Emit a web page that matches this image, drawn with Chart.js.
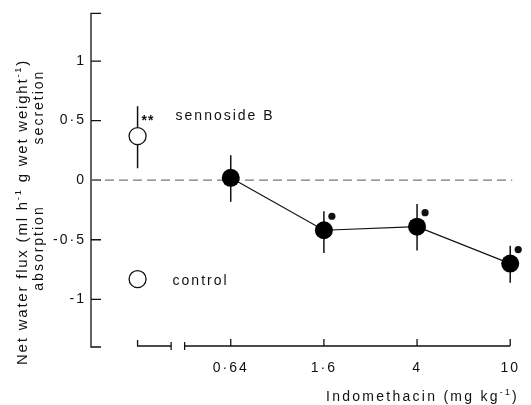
<!DOCTYPE html>
<html><head><meta charset="utf-8">
<script src="https://cdn.jsdelivr.net/npm/chart.js@4/dist/chart.umd.min.js"></script>
<style>html,body{margin:0;padding:0;background:#fff}canvas{display:block}</style>
</head><body>
<canvas id="c" width="531" height="405"></canvas>
<script>
// ---- data ----
const doseLabels = ['0·64', '1·6', '4', '10'];
const dosePositions = [2, 3, 4, 5];
const doseMeans = [0.02, -0.42, -0.39, -0.70];
const doseUpper = [0.21, -0.26, -0.20, -0.55];
const doseLower = [-0.18, -0.61, -0.59, -0.86];
const doseSignificant = [false, true, true, true];

const referencePosition = [1];
const sennosideMean = [0.37];
const sennosideUpper = [0.62];
const sennosideLower = [0.10];
const controlMean = [-0.83];

const yTickValues = [-1, -0.5, 0, 0.5, 1];
const yTickLabels = ['-1', '-0·5', '0', '0·5', '1'];

const FONT = "'Liberation Sans', Arial, Helvetica, sans-serif";

function partsWidth(ctx, parts, size) {
  let w = 0;
  for (const p of parts) {
    ctx.font = (p.sup ? size * 0.62 : size) + 'px ' + FONT;
    w += ctx.measureText(p.t).width;
  }
  return w;
}
function drawRich(ctx, parts, size, spacing) {
  ctx.letterSpacing = spacing + 'px';
  let x = 0;
  for (const p of parts) {
    ctx.font = (p.sup ? size * 0.62 : size) + 'px ' + FONT;
    ctx.fillText(p.t, x, p.sup ? -size * 0.42 : 0);
    x += ctx.measureText(p.t).width;
  }
  return x;
}
function fittedSpacing(ctx, parts, size, target) {
  ctx.letterSpacing = '0px';
  const w0 = partsWidth(ctx, parts, size);
  const n = parts.reduce((a, p) => a + p.t.length, 0);
  return (target - w0) / n;
}

const decor = {
  id: 'decor',
  beforeDraw(chart) {
    chart.ctx.letterSpacing = '2px';
  },
  beforeDatasetsDraw(chart) {
    const ctx = chart.ctx, xs = chart.scales.x, ys = chart.scales.y;
    const a = chart.chartArea;
    ctx.save();
    ctx.strokeStyle = '#111';
    ctx.lineWidth = 1.3;
    ctx.beginPath();
    ctx.moveTo(a.left + 10, a.top); ctx.lineTo(a.left, a.top);
    ctx.lineTo(a.left, a.bottom); ctx.lineTo(a.left + 10, a.bottom);
    for (const v of yTickValues) {
      const py = ys.getPixelForValue(v);
      ctx.moveTo(a.left, py); ctx.lineTo(a.left + 10, py);
    }
    ctx.stroke();
    const yb = a.bottom - 1;
    const s1a = xs.getPixelForValue(1), s1b = xs.getPixelForValue(1.36);
    const s2a = xs.getPixelForValue(1.505), s2b = xs.getPixelForValue(5);
    ctx.beginPath();
    ctx.moveTo(s1a, yb - 6); ctx.lineTo(s1a, yb); ctx.lineTo(s1b, yb);
    ctx.moveTo(s1b, yb - 4); ctx.lineTo(s1b, yb + 4);
    ctx.moveTo(s2a, yb - 4); ctx.lineTo(s2a, yb + 4);
    ctx.moveTo(s2a, yb); ctx.lineTo(s2b, yb);
    for (const v of dosePositions) {
      const px = xs.getPixelForValue(v);
      ctx.moveTo(px, yb); ctx.lineTo(px, yb - 7);
    }
    ctx.stroke();
    const y0 = ys.getPixelForValue(0);
    ctx.strokeStyle = '#777';
    ctx.lineWidth = 1.2;
    ctx.setLineDash([9, 5]);
    ctx.beginPath();
    ctx.moveTo(a.left, y0); ctx.lineTo(a.right + 2, y0);
    ctx.stroke();
    ctx.setLineDash([]);
    ctx.strokeStyle = '#111';
    ctx.lineWidth = 1.5;
    ctx.beginPath();
    dosePositions.forEach((v, i) => {
      const px = xs.getPixelForValue(v);
      ctx.moveTo(px, ys.getPixelForValue(doseUpper[i]));
      ctx.lineTo(px, ys.getPixelForValue(doseLower[i]));
    });
    referencePosition.forEach((v, i) => {
      const px = xs.getPixelForValue(v);
      ctx.moveTo(px, ys.getPixelForValue(sennosideUpper[i]));
      ctx.lineTo(px, ys.getPixelForValue(sennosideLower[i]));
    });
    ctx.stroke();
    ctx.restore();
  },
  afterDatasetsDraw(chart) {
    const ctx = chart.ctx, xs = chart.scales.x, ys = chart.scales.y;
    ctx.save();
    ctx.fillStyle = '#111';
    dosePositions.forEach((v, i) => {
      if (!doseSignificant[i]) return;
      const px = xs.getPixelForValue(v), py = ys.getPixelForValue(doseMeans[i]);
      ctx.beginPath();
      ctx.arc(px + 8, py - 14, 3.6, 0, Math.PI * 2);
      ctx.fill();
    });
    const sx = xs.getPixelForValue(referencePosition[0]);
    const sy = ys.getPixelForValue(sennosideMean[0]);
    ctx.letterSpacing = '1px';
    ctx.font = 'bold 14px ' + FONT;
    ctx.textAlign = 'left';
    ctx.textBaseline = 'alphabetic';
    ctx.fillText('**', sx + 4, sy - 11);
    ctx.letterSpacing = '2px';
    ctx.font = '14px ' + FONT;
    ctx.fillText('sennoside B', sx + 38, sy - 16);
    ctx.fillText('control', sx + 35, ys.getPixelForValue(controlMean[0]) + 6);

    const yParts = [{t: 'Net water flux (ml h'}, {t: '-1', sup: true}, {t: ' g wet weight'}, {t: '-1', sup: true}, {t: ')'}];
    const sp = fittedSpacing(ctx, yParts, 15, 306);
    ctx.save();
    ctx.translate(27, 365);
    ctx.rotate(-Math.PI / 2);
    drawRich(ctx, yParts, 15, sp);
    ctx.restore();

    for (const [txt, cy] of [['secretion', 107], ['absorption', 248]]) {
      ctx.save();
      ctx.letterSpacing = '2px';
      ctx.font = '14px ' + FONT;
      ctx.textAlign = 'center';
      ctx.translate(43, cy);
      ctx.rotate(-Math.PI / 2);
      ctx.fillText(txt, 0, 0);
      ctx.restore();
    }

    const xParts = [{t: 'Indomethacin (mg kg'}, {t: '-1', sup: true}, {t: ')'}];
    const xsp = fittedSpacing(ctx, xParts, 14, 193);
    ctx.save();
    ctx.translate(326, 401);
    drawRich(ctx, xParts, 14, xsp);
    ctx.restore();
    ctx.restore();
  }
};

new Chart(document.getElementById('c'), {
  type: 'scatter',
  data: {
    datasets: [
      {
        label: 'Indomethacin',
        data: dosePositions.map((x, i) => ({x, y: doseMeans[i]})),
        showLine: true,
        borderColor: '#111',
        borderWidth: 1.2,
        pointRadius: 9,
        pointBackgroundColor: '#000',
        pointBorderColor: '#000',
        pointBorderWidth: 0,
        clip: false
      },
      {
        label: 'sennoside B',
        data: referencePosition.map((x, i) => ({x, y: sennosideMean[i]})),
        pointRadius: 8.5,
        pointBackgroundColor: '#fff',
        pointBorderColor: '#111',
        pointBorderWidth: 1.3,
        clip: false
      },
      {
        label: 'control',
        data: referencePosition.map((x, i) => ({x, y: controlMean[i]})),
        pointRadius: 8.5,
        pointBackgroundColor: '#fff',
        pointBorderColor: '#111',
        pointBorderWidth: 1.3,
        clip: false
      }
    ]
  },
  options: {
    responsive: false,
    animation: false,
    devicePixelRatio: 1,
    layout: {padding: {top: 10, right: 13, left: 0, bottom: 0}},
    plugins: {legend: {display: false}, tooltip: {enabled: false}},
    scales: {
      x: {
        type: 'linear', min: 0.5, max: 5,
        grid: {display: false, drawTicks: false},
        border: {display: false},
        afterBuildTicks: s => { s.ticks = dosePositions.map(v => ({value: v})); },
        afterFit: s => { s.height = 58; },
        ticks: {
          callback: (v, i) => doseLabels[i],
          color: '#111', font: {family: FONT, size: 14},
          padding: 13, maxRotation: 0, autoSkip: false
        }
      },
      y: {
        type: 'linear', min: -1.4, max: 1.4,
        grid: {display: false, drawTicks: false},
        border: {display: false},
        afterBuildTicks: s => { s.ticks = yTickValues.map(v => ({value: v})); },
        afterFit: s => { s.width = 91; },
        ticks: {
          callback: (v, i) => yTickLabels[i],
          color: '#111', font: {family: FONT, size: 14},
          padding: 5, autoSkip: false
        }
      }
    }
  },
  plugins: [decor]
});
</script>
</body></html>
